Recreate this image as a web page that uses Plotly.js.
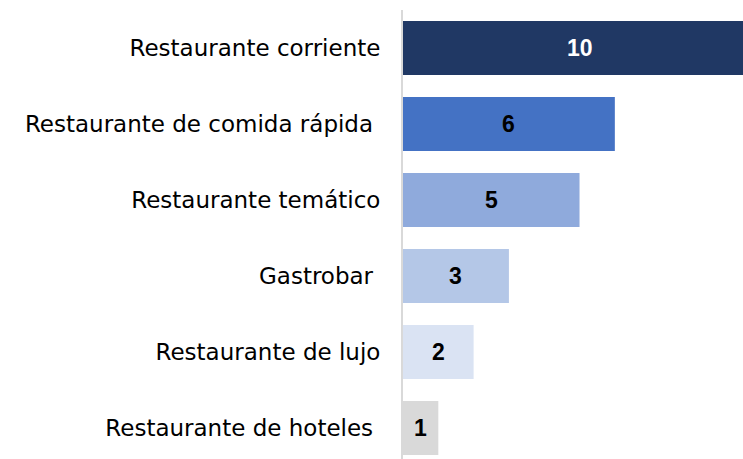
<!DOCTYPE html>
<html>
<head>
<meta charset="utf-8">
<script src="https://cdn.plot.ly/plotly-3.0.1.min.js"></script>
<style>html,body{margin:0;padding:0;background:#fff;}#chart{width:743px;height:459px;}</style>
</head>
<body>
<div id="chart"></div>
<script>
var categories = ["Restaurante corriente", "Restaurante de comida rápida\u00a0", "Restaurante temático", "Gastrobar\u00a0", "Restaurante de lujo", "Restaurante de hoteles\u00a0"];
var values = [10, 6, 5, 3, 2, 1];
var barColors = ["#203864", "#4472C4", "#8FAADC", "#B4C7E7", "#DAE3F3", "#D9D9D9"];
var labelColors = ["#FFFFFF", "#000000", "#000000", "#000000", "#000000", "#000000"];

var trace = {
  type: "bar",
  orientation: "h",
  x: values,
  y: categories,
  marker: {color: barColors},
  width: 0.71,
  hoverinfo: "none",
  cliponaxis: true
};

var annotations = values.map(function (v, i) {
  return {
    x: v / 2, y: categories[i], xref: "x", yref: "y",
    text: "<b>" + v + "</b>", showarrow: false,
    font: {family: "Liberation Sans, Arial, sans-serif", size: 23, color: labelColors[i]},
    xanchor: "center", yanchor: "middle"
  };
});

var layout = {
  width: 743, height: 459,
  margin: {l: 403, r: 0, t: 10, b: 0, pad: 0},
  paper_bgcolor: "#FFFFFF", plot_bgcolor: "#FFFFFF",
  showlegend: false,
  xaxis: {range: [0, 9.63], visible: false, fixedrange: true},
  yaxis: {
    type: "category",
    range: [5.408, -0.5],
    showline: true, linecolor: "#D9D9D9", linewidth: 2,
    showgrid: false, zeroline: false, ticks: "",
    ticklabelstandoff: 16,
    tickfont: {family: "DejaVu Sans, sans-serif", size: 23, color: "#000000"},
    fixedrange: true
  },
  annotations: annotations
};

Plotly.newPlot("chart", [trace], layout, {displayModeBar: false, staticPlot: true});
</script>
</body>
</html>
